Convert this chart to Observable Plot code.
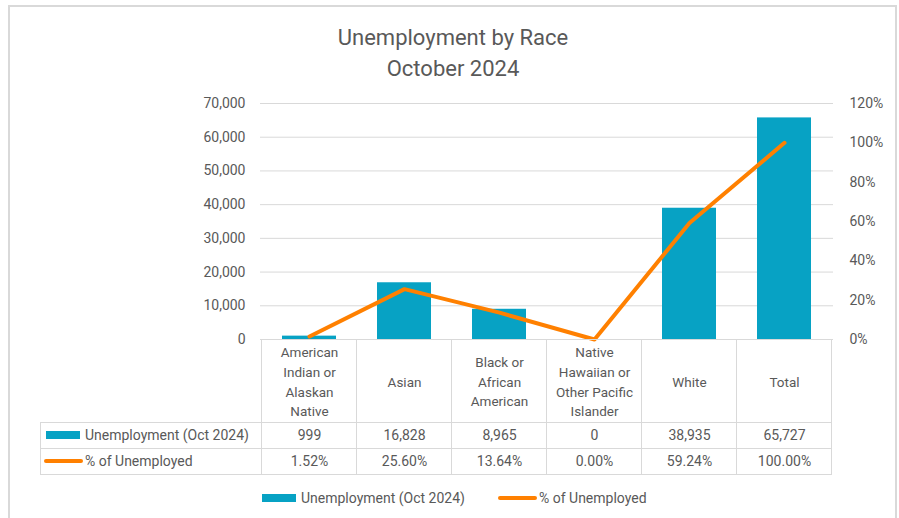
<!DOCTYPE html>
<html><head><meta charset="utf-8">
<script src="https://cdn.jsdelivr.net/npm/d3@7"></script>
<script src="https://cdn.jsdelivr.net/npm/@observablehq/plot@0.6"></script>
<style>
body{margin:0;background:#fff}
#chart{position:relative;width:899px;height:518px;overflow:hidden}
</style>
</head><body><div id="chart"></div>
<script>
const categories = ["American Indian or Alaskan Native","Asian","Black or African American","Native Hawaiian or Other Pacific Islander","White","Total"];
const headerLabels = ["American\nIndian or\nAlaskan\nNative","Asian","Black or\nAfrican\nAmerican","Native\nHawaiian or\nOther Pacific\nIslander","White","Total"];
const unemployment = [999, 16828, 8965, 0, 38935, 65727];
const pctUnemployed = [1.52, 25.60, 13.64, 0.00, 59.24, 100.00];
const leftTicks = [0, 10000, 20000, 30000, 40000, 50000, 60000, 70000];
const rightTicks = [0, 20, 40, 60, 80, 100, 120];
const seriesNames = ["Unemployment (Oct 2024)", "% of Unemployed"];
const titleLines = ["Unemployment by Race", "October 2024"];

const BAR = "#07a2c4", LINE = "#ff8000", TXT = "#595959", BORDER = "#d9d9d9";
const Y_MAX = leftTicks[leftTicks.length - 1], P_MAX = rightTicks[rightTicks.length - 1];
const toY = p => p / P_MAX * Y_MAX;
const data = categories.map((c, i) => ({cat: c, header: headerLabels[i], n: unemployment[i], pct: pctUnemployed[i]}));
const fmtN = d3.format(",");

const plot = Plot.plot({
  width: 899, height: 518,
  marginTop: 103, marginBottom: 179, marginLeft: 260, marginRight: 66,
  style: {fontFamily: "Roboto, 'Liberation Sans', sans-serif", fontSize: "14px", color: TXT, background: "#fff"},
  x: {domain: categories, axis: null, paddingInner: 0.43, paddingOuter: 0.215},
  y: {domain: [0, Y_MAX], axis: null},
  marks: [
    Plot.gridY(leftTicks, {stroke: BORDER, strokeOpacity: 1, strokeWidth: 1}),
    Plot.axisY({ticks: leftTicks, tickSize: 0, tickPadding: 15, tickFormat: fmtN, label: null, fontSize: 14}),
    Plot.axisY({anchor: "right", ticks: rightTicks.map(toY), tickSize: 0, tickPadding: 16, label: null, fontSize: 14,
      tickFormat: v => Math.round(v / Y_MAX * P_MAX) + "%"}),
    Plot.barY(data, {x: "cat", y: "n", fill: BAR}),
    Plot.line(data, {x: "cat", y: d => toY(d.pct), stroke: LINE, strokeWidth: 4, strokeLinejoin: "round", strokeLinecap: "round"}),
    Plot.text(data, {x: "cat", y: 0, text: "header", dy: 41, lineAnchor: "middle", lineHeight: 1.45, fontSize: 13.5, fill: TXT}),
    Plot.text(data, {x: "cat", y: 0, text: d => fmtN(d.n), dy: 96, fontSize: 14, fill: TXT}),
    Plot.text(data, {x: "cat", y: 0, text: d => d.pct.toFixed(2) + "%", dy: 122, fontSize: 14, fill: TXT})
  ]
});
document.getElementById("chart").appendChild(plot);

const svg = d3.select(plot);
const xs = plot.scale("x"), ys = plot.scale("y");
const bounds = categories.map(c => xs.apply(c) + xs.bandwidth / 2 - xs.step / 2);
const xRight = xs.apply(categories[categories.length - 1]) + xs.bandwidth / 2 + xs.step / 2;
bounds.push(xRight);
const y0 = ys.apply(0);
const hdrBot = y0 + 83, r1Bot = hdrBot + 26, r2Bot = r1Bot + 26, tLeft = 40;

const g = svg.append("g").attr("stroke", BORDER).attr("stroke-width", 1).attr("shape-rendering", "crispEdges");
g.append("line").attr("x1", bounds[0]).attr("x2", xRight).attr("y1", y0).attr("y2", y0);
bounds.forEach(b => g.append("line").attr("x1", b).attr("x2", b).attr("y1", y0).attr("y2", r2Bot));
[hdrBot, r1Bot, r2Bot].forEach(yy => g.append("line").attr("x1", tLeft).attr("x2", xRight).attr("y1", yy).attr("y2", yy));
g.append("line").attr("x1", tLeft).attr("x2", tLeft).attr("y1", hdrBot).attr("y2", r2Bot);

const lab = svg.append("g").attr("text-anchor", "start").attr("fill", TXT).attr("font-size", 14);

// row legends in the table
const rowY1 = (hdrBot + r1Bot) / 2, rowY2 = (r1Bot + r2Bot) / 2;
svg.append("rect").attr("x", 46).attr("y", rowY1 - 4).attr("width", 34).attr("height", 8).attr("fill", BAR);
svg.append("line").attr("x1", 46).attr("x2", 81).attr("y1", rowY2).attr("y2", rowY2).attr("stroke", LINE).attr("stroke-width", 4).attr("stroke-linecap", "round");
[[rowY1, seriesNames[0]], [rowY2, seriesNames[1]]].forEach(([yy, t]) =>
  lab.append("text").attr("x", 85).attr("y", yy).attr("dy", "0.35em").text(t));

// bottom legend
const ly = 498;
svg.append("rect").attr("x", 262).attr("y", ly - 4).attr("width", 34).attr("height", 8).attr("fill", BAR);
lab.append("text").attr("x", 301).attr("y", ly).attr("dy", "0.35em").text(seriesNames[0]);
svg.append("line").attr("x1", 500).attr("x2", 535).attr("y1", ly).attr("y2", ly).attr("stroke", LINE).attr("stroke-width", 4).attr("stroke-linecap", "round");
lab.append("text").attr("x", 539).attr("y", ly).attr("dy", "0.35em").text(seriesNames[1]);

// title
titleLines.forEach((t, i) => svg.append("text").attr("x", 453).attr("y", 37 + i * 31).attr("dy", "0.35em")
  .attr("text-anchor", "middle").attr("fill", TXT).attr("font-size", 22).text(t));

// outer border
svg.append("rect").attr("x", 9).attr("y", 6).attr("width", 887).attr("height", 530)
  .attr("fill", "none").attr("stroke", BORDER).attr("stroke-width", 2);
</script></body></html>
